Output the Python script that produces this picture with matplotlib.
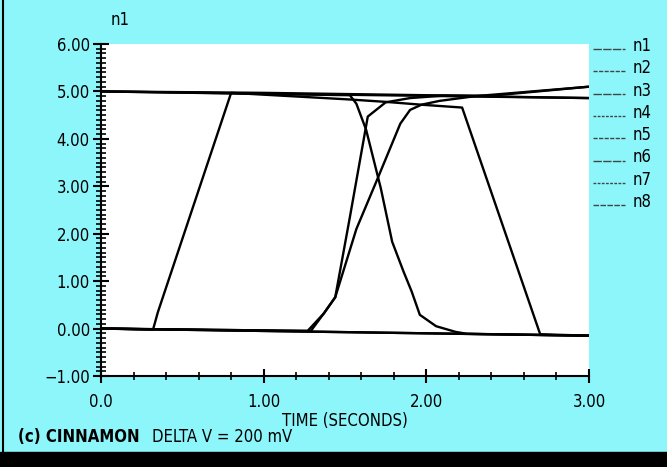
import matplotlib
matplotlib.use("Agg")
import matplotlib.pyplot as plt
from matplotlib.lines import Line2D
from matplotlib.patches import Rectangle
from matplotlib.ticker import MultipleLocator, FixedLocator

plt.rcParams['font.family'] = ['DejaVu Sans']
plt.rcParams['font.stretch'] = 'condensed'

# node voltages
n1_t = [0.0, 0.32, 0.35, 0.80, 1.53, 1.75, 1.97, 2.22, 2.70, 3.0]
n1_v = [0.0, -0.02, 0.35, 4.97, 4.83, 4.78, 4.72, 4.66, -0.12, -0.15]
n2_t = [0.0, 3.0]
n2_v = [0.0, -0.15]
n3_t = [0.0, 3.0]
n3_v = [5.0, 4.86]
n4_t = [0.0, 1.0, 2.0, 2.4, 3.0]
n4_v = [5.0, 4.97, 4.92, 4.91, 5.10]
n5_t = [0.0, 1.53, 1.57, 1.63, 1.72, 1.79, 1.86, 1.91, 1.96, 2.06, 2.18, 2.25, 3.0]
n5_v = [5.0, 4.92, 4.74, 4.19, 2.96, 1.83, 1.20, 0.78, 0.29, 0.05, -0.07, -0.11, -0.15]
n6_t = [0.0, 1.27, 1.37, 1.44, 1.53, 1.64, 1.75, 1.90, 2.10, 3.0]
n6_v = [0.0, -0.05, 0.32, 0.66, 2.35, 4.47, 4.77, 4.86, 4.91, 4.86]
n7_t = [0.0, 1.29, 1.37, 1.44, 1.57, 1.70, 1.84, 1.90, 1.97, 2.08, 2.30, 3.0]
n7_v = [0.0, -0.05, 0.32, 0.66, 2.10, 3.16, 4.32, 4.61, 4.72, 4.80, 4.90, 5.10]
n8_t = [0.0, 3.0]
n8_v = [0.0, -0.15]

series = [(n1_t, n1_v), (n2_t, n2_v), (n3_t, n3_v), (n4_t, n4_v),
          (n5_t, n5_v), (n6_t, n6_v), (n7_t, n7_v), (n8_t, n8_v)]
names = ["n1", "n2", "n3", "n4", "n5", "n6", "n7", "n8"]

bg = '#8cf6fb'
W, H = 667, 467
fig = plt.figure(figsize=(6.67, 4.67), dpi=100, facecolor=bg)
ax = fig.add_axes([101 / W, 1 - 376 / H, 488 / W, 332 / H])
ax.set_facecolor('white')

for t, v in series:
    ax.plot(t, v, color='black', lw=1.7, solid_joinstyle='round')

ax.set_xlim(0, 3.0)
ax.set_ylim(-1.0, 6.0)
for s in ['top', 'right']:
    ax.spines[s].set_visible(False)
for s in ['left', 'bottom']:
    ax.spines[s].set_linewidth(1.5)

ax.xaxis.set_major_locator(FixedLocator([0, 1, 2, 3]))
ax.set_xticklabels(["0.0", "1.00", "2.00", "3.00"])
ax.xaxis.set_minor_locator(MultipleLocator(0.2))
ax.yaxis.set_major_locator(MultipleLocator(1.0))
ax.yaxis.set_minor_locator(MultipleLocator(0.1))
ax.set_yticklabels([("\u22121.00" if v < 0 else "%.2f" % v) for v in ax.get_yticks()])
ax.tick_params(axis='y', which='major', direction='inout', length=12, width=1.5, pad=2, labelsize=12)
ax.tick_params(axis='y', which='minor', direction='inout', length=7, width=1.2)
ax.tick_params(axis='x', which='major', direction='inout', length=10, width=1.5, pad=7, labelsize=12)
ax.tick_params(axis='x', which='minor', direction='inout', length=6, width=1.2)

ax.set_xlabel("TIME (SECONDS)", fontsize=12, labelpad=1)
fig.text(120 / W, 1 - 20 / H, "n1", fontsize=12, ha='center', va='center')

# legend in the margin
styles = [(0, (6, 1)), (0, (3, 1)), (0, (6, 1)), (0, (2, 1)),
          (0, (3, 1)), (0, (6, 1)), (0, (2, 1)), (0, (4, 1))]
for i, name in enumerate(names):
    yc = 1 - (46 + 22.3 * i) / H
    fig.add_artist(Line2D([593 / W, 625 / W], [yc - 3 / H, yc - 3 / H],
                          color='#444444', lw=1.0, linestyle=styles[i]))
    fig.text(633 / W, yc, name, fontsize=12, va='center', ha='left')

fig.text(18 / W, 1 - 437 / H, "(c) CINNAMON", fontsize=12, fontweight='bold', va='center')
fig.text(152 / W, 1 - 437 / H, "DELTA V = 200 mV", fontsize=12, va='center')

fig.add_artist(Rectangle((0, 0), 1, 15 / H, transform=fig.transFigure, color='black'))
fig.add_artist(Line2D([2.5 / W, 2.5 / W], [0, 1], color='black', lw=1.5))

fig.savefig("out.png", dpi=100, facecolor=bg)
